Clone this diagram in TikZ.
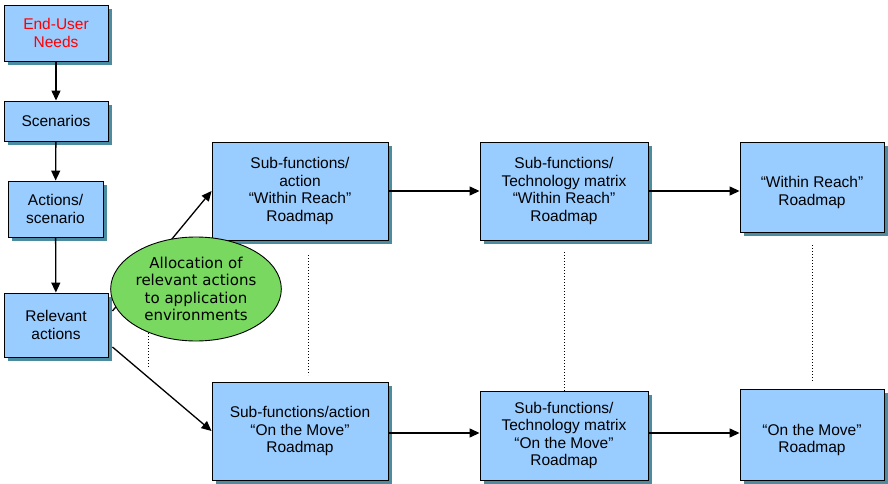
\documentclass[tikz,border=0pt]{standalone}
\usepackage{fontspec}
\setmainfont{Liberation Sans}
\newfontfamily\ovalfont{DejaVu Sans}
\usetikzlibrary{calc, arrows.meta, positioning, shapes.geometric, shadows}

\definecolor{boxblue}{HTML}{99CCFF}
\definecolor{shadowteal}{HTML}{4B8CA0}
\definecolor{ovalgreen}{HTML}{78D860}

\begin{document}
\begin{tikzpicture}[
    x=1pt, y=-1pt,
    >={Triangle[length=10pt, width=9pt]},
    box/.style={rectangle, draw, line width=0.9pt, fill=boxblue, text=black,
        align=center, inner sep=2pt,
        font=\fontsize{15.5}{17.5}\selectfont,
        drop shadow={shadow xshift=4pt, shadow yshift=-4pt, fill=shadowteal, opacity=1}},
    oval/.style={ellipse, draw, line width=0.9pt, fill=ovalgreen, align=center,
        inner sep=0pt, minimum width=160pt, minimum height=104pt,
        font=\ovalfont\fontsize{15}{17.3}\selectfont},
    link/.style={->, line width=1.3pt},
    guide/.style={dotted, line width=1pt}
]

    \useasboundingbox (0,0) rectangle (888,484);

    % Nodes ------------------------------------------------------

    \node[box, minimum width=104pt, minimum height=56pt, text=red] (needs) at (56,33) {End-User\\Needs};
    \node[box, minimum width=104pt, minimum height=40pt] (scen) at (56,121) {Scenarios};
    \node[box, minimum width=95pt, minimum height=56pt] (act) at (55.5,209) {Actions/\\scenario};
    \node[box, minimum width=104pt, minimum height=64pt] (rel) at (56,325) {Relevant\\actions};

    \node[box, minimum width=176pt, minimum height=98pt] (subWR) at (300,191) {Sub-functions/\\action\\“Within Reach”\\Roadmap};
    \node[box, minimum width=176pt, minimum height=98pt] (subOM) at (300,431) {Sub-functions/action\\“On the Move”\\Roadmap};

    \node[box, minimum width=168pt, minimum height=98pt] (techWR) at (564,191) {Sub-functions/\\Technology matrix\\“Within Reach”\\Roadmap};
    \node[box, minimum width=168pt, minimum height=89pt] (techOM) at (564,435.5) {Sub-functions/\\Technology matrix\\“On the Move”\\Roadmap};

    \node[box, minimum width=144pt, minimum height=90pt, text height=40pt] (mapWR) at (812,187) {“Within Reach”\\Roadmap};
    \node[box, minimum width=144pt, minimum height=91pt, text height=40pt] (mapOM) at (812,434.5) {“On the Move”\\Roadmap};

    % dotted guides
    \coordinate (g1a) at (148,255);  \coordinate (g1b) at (148,367);
    \coordinate (g2a) at (308,255);  \coordinate (g2b) at (308,375);
    \coordinate (g3a) at (564,252);  \coordinate (g3b) at (techOM.north);
    \coordinate (g4a) at (812,245);  \coordinate (g4b) at (812,382);

    \draw[guide] (g1a) -- (g1b);
    \draw[guide] (g2a) -- (g2b);
    \draw[guide] (g3a) -- (g3b);
    \draw[guide] (g4a) -- (g4b);

    % Arrows ---------------------------------------------------

    \draw[link] (needs) -- (scen);
    \draw[link] (scen) -- (act);
    \draw[link] (act) -- (rel);

    \draw[link] ([shift={(4,-14)}]rel.east) -- (subWR.west);
    \draw[link] ([shift={(4,22)}]rel.east) -- (subOM.west);

    \draw[link] (subWR.east) -- (subWR.east -| techWR.west);
    \draw[link] (techWR.east) -- (techWR.east -| mapWR.west);
    \draw[link] ([yshift=-2pt]subOM.east) -- ([yshift=-2pt]subOM.east -| techOM.west);
    \draw[link] ([yshift=-2pt]subOM.east -| techOM.east) -- ([yshift=-2pt]subOM.east -| mapOM.west);

    % allocation oval on top of the links
    \node[oval] (alloc) at (196,289) {Allocation of\\relevant actions\\to application\\environments};

\end{tikzpicture}
\end{document}
